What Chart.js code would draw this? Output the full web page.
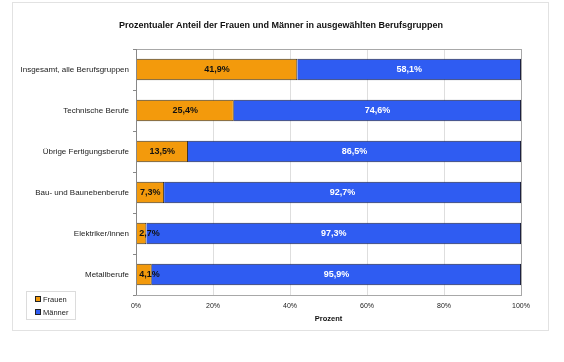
<!DOCTYPE html>
<html lang="de">
<head>
<meta charset="UTF-8">
<title>Prozentualer Anteil der Frauen und Männer</title>
<script src="https://cdn.jsdelivr.net/npm/chart.js@4/dist/chart.umd.min.js"></script>
<style>
  html, body { margin: 0; padding: 0; background: #fff; }
  #wrap { width: 564px; height: 362px; }
</style>
</head>
<body>
<div id="wrap"><canvas id="chart" width="564" height="362"></canvas></div>
<script>
// Berufsgruppen, von oben nach unten
const categories = [
  'Insgesamt, alle Berufsgruppen',
  'Technische Berufe',
  'Übrige Fertigungsberufe',
  'Bau- und Baunebenberufe',
  'Elektriker/innen',
  'Metallberufe',
];
const frauen = [41.9, 25.4, 13.5, 7.3, 2.7, 4.1];
const maenner = [58.1, 74.6, 86.5, 92.7, 97.3, 95.9];
const xTicks = [0, 20, 40, 60, 80, 100];
const titleText = 'Prozentualer Anteil der Frauen und Männer in ausgewählten Berufsgruppen';

const FONT = '"Liberation Sans", Arial, sans-serif';

// frame round the whole chart, title, plot border
const framePlugin = {
  id: 'frame',
  beforeDraw(chart) {
    const ctx = chart.ctx;
    ctx.save();
    ctx.fillStyle = '#fff';
    ctx.fillRect(0, 0, chart.width, chart.height);
    ctx.strokeStyle = '#e2e2e2';
    ctx.lineWidth = 1;
    ctx.strokeRect(12.5, 2.5, 536, 328);
    ctx.fillStyle = '#111';
    ctx.font = 'bold 9px ' + FONT;
    ctx.textAlign = 'center';
    ctx.textBaseline = 'middle';
    ctx.fillText(titleText, 281, 26);
    ctx.restore();
  },
  afterDraw(chart) {
    const a = chart.chartArea;
    const ctx = chart.ctx;
    ctx.save();
    ctx.strokeStyle = '#a8a8a8';
    ctx.lineWidth = 1;
    ctx.strokeRect(Math.round(a.left) + 0.5, Math.round(a.top) + 0.5,
      Math.round(a.right - a.left), Math.round(a.bottom - a.top));
    ctx.strokeStyle = '#888';
    ctx.beginPath();
    ctx.moveTo(Math.round(a.left) + 0.5, a.top);
    ctx.lineTo(Math.round(a.left) + 0.5, a.bottom);
    ctx.stroke();
    ctx.restore();
  },
};

// value labels inside the segments
const valueLabels = {
  id: 'valueLabels',
  afterDatasetsDraw(chart) {
    const ctx = chart.ctx;
    ctx.save();
    ctx.font = 'bold 9px ' + FONT;
    ctx.textAlign = 'center';
    ctx.textBaseline = 'middle';
    chart.data.datasets.forEach((ds, i) => {
      chart.getDatasetMeta(i).data.forEach((bar, j) => {
        const cx = (bar.x + bar.base) / 2;
        const txt = ds.data[j].toFixed(1).replace('.', ',') + '%';
        ctx.fillStyle = ds.labelColor;
        ctx.fillText(txt, Math.max(cx, bar.base + 13), bar.y);
      });
    });
    ctx.restore();
  },
};

// legend box bottom left
const boxLegend = {
  id: 'boxLegend',
  afterDraw(chart) {
    const ctx = chart.ctx;
    ctx.save();
    ctx.strokeStyle = '#dcdcdc';
    ctx.lineWidth = 1;
    ctx.strokeRect(26.5, 291.5, 49, 28);
    ctx.font = '7.5px ' + FONT;
    ctx.textBaseline = 'middle';
    chart.data.datasets.forEach((ds, i) => {
      const y = 299 + i * 13;
      ctx.fillStyle = ds.backgroundColor;
      ctx.fillRect(35.5, y - 2.5, 5, 5);
      ctx.strokeStyle = '#222';
      ctx.strokeRect(35.5, y - 2.5, 5, 5);
      ctx.fillStyle = '#222';
      ctx.fillText(ds.label, 43, y + 0.5);
    });
    ctx.restore();
  },
};

new Chart(document.getElementById('chart'), {
  type: 'bar',
  data: {
    labels: categories,
    datasets: [
      {
        label: 'Frauen',
        data: frauen,
        backgroundColor: '#F39A0C',
        borderColor: '#3a3020',
        borderWidth: 1,
        labelColor: '#111',
        barPercentage: 0.52,
        categoryPercentage: 1,
      },
      {
        label: 'Männer',
        data: maenner,
        backgroundColor: '#2F5CF2',
        borderColor: '#1c2040',
        borderWidth: 1,
        labelColor: '#fff',
        barPercentage: 0.52,
        categoryPercentage: 1,
      },
    ],
  },
  options: {
    indexAxis: 'y',
    responsive: false,
    animation: false,
    layout: { padding: { left: 0, right: 43, top: 49, bottom: 0 } },
    plugins: {
      legend: { display: false },
      tooltip: { enabled: false },
      title: { display: false },
    },
    scales: {
      x: {
        stacked: true,
        min: 0,
        max: 100,
        afterBuildTicks(scale) {
          scale.ticks = xTicks.map(v => ({ value: v }));
        },
        afterFit(scale) { scale.height = 67; },
        ticks: {
          color: '#222',
          font: { family: FONT, size: 7 },
          padding: 7,
          callback: v => v + '%',
        },
        grid: { color: '#dedede', drawTicks: false },
        border: { display: false },
        title: {
          display: true,
          text: 'Prozent',
          color: '#111',
          font: { family: FONT, size: 7.5, weight: 'bold', lineHeight: 1.2 },
          padding: { top: 0, bottom: 38.5 },
        },
      },
      y: {
        stacked: true,
        afterFit(scale) { scale.width = 136; },
        ticks: {
          color: '#222',
          font: { family: FONT, size: 8 },
          padding: 4,
        },
        grid: { drawOnChartArea: false, drawTicks: true, tickLength: 3, color: '#888' },
        border: { display: false },
      },
    },
  },
  plugins: [framePlugin, valueLabels, boxLegend],
});
</script>
</body>
</html>
